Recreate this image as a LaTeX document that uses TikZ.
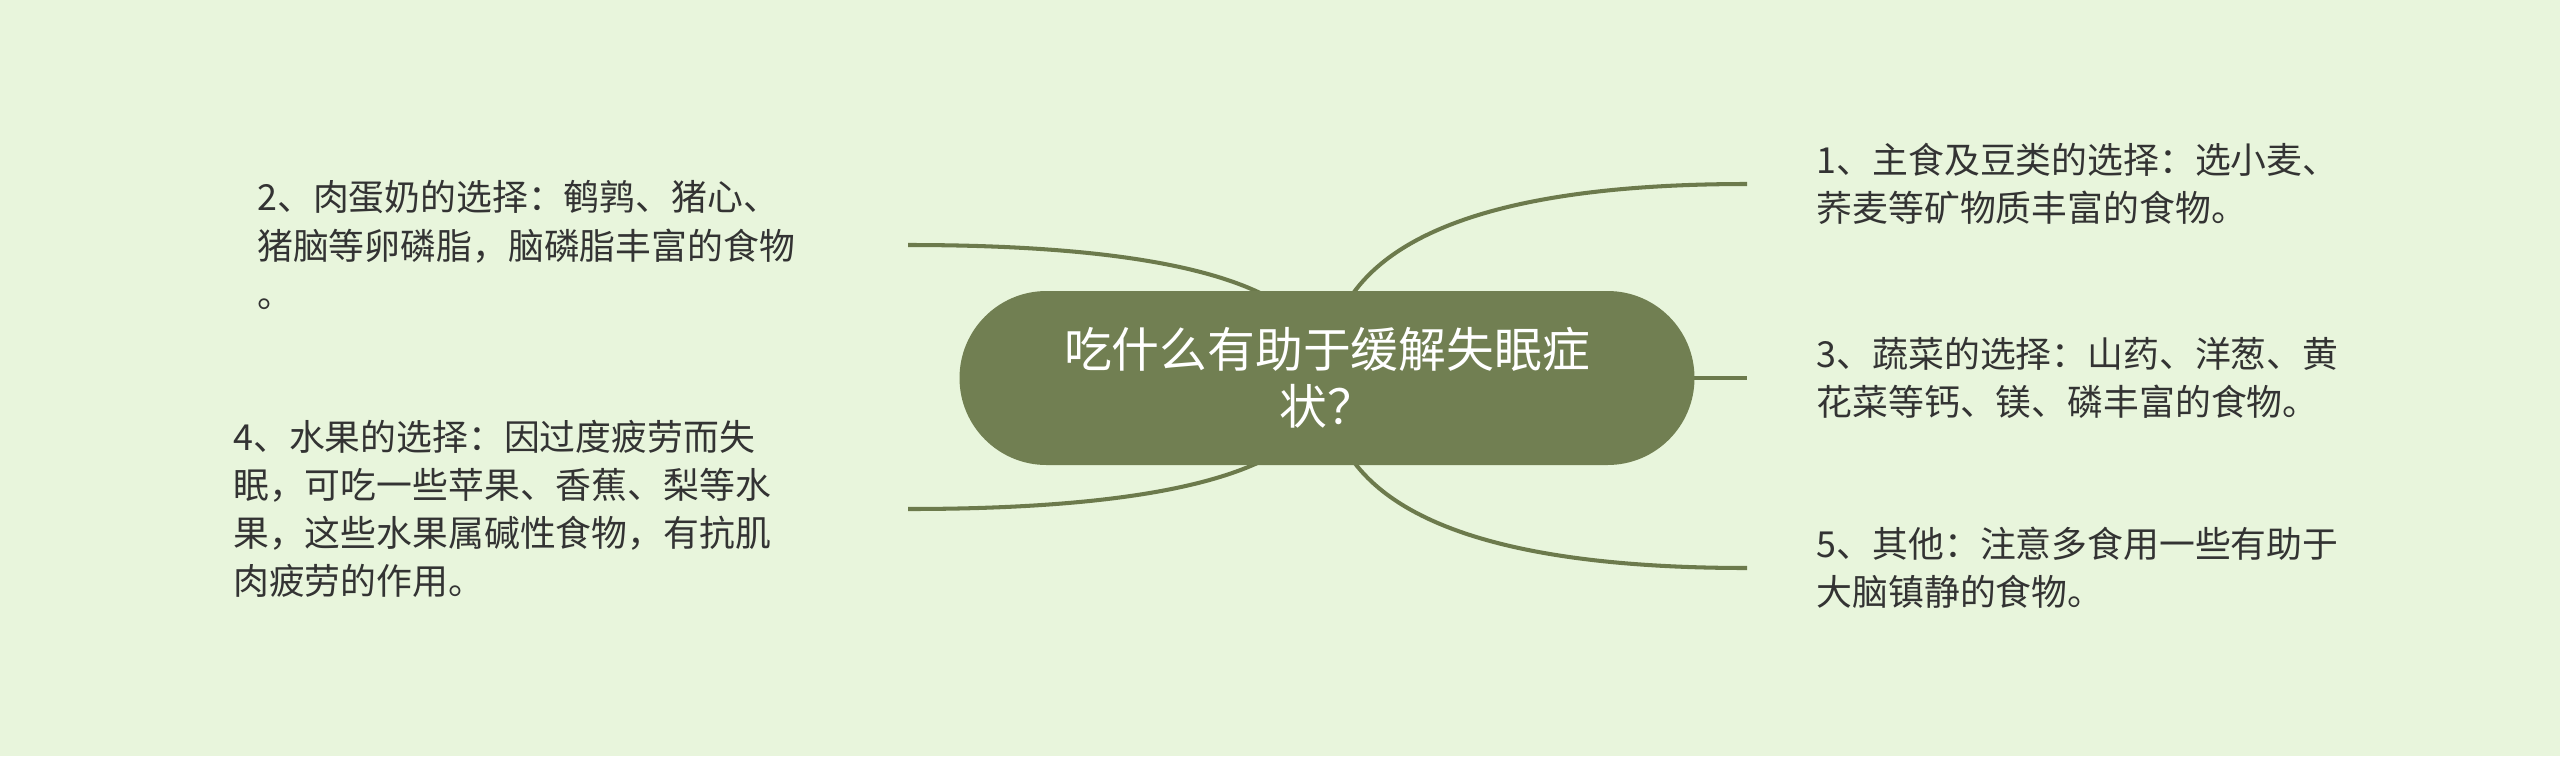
\documentclass[tikz,border=0pt]{standalone}
\usepackage{fontspec}
\setmainfont{Noto Sans CJK SC}
\usepackage{xcolor}
\usepackage{tikz}
\usetikzlibrary{calc}
\usetikzlibrary{backgrounds}

\definecolor{paper}{HTML}{E8F5DC}
\definecolor{branchgreen}{HTML}{717F52}
\definecolor{linkgreen}{HTML}{6C7A4C}
\definecolor{ink}{HTML}{333333}

\tikzset{
 topic/.style={rectangle, rounded corners=8.7mm, fill=branchgreen, text=white,
   minimum width=7.35cm, minimum height=1.74cm, align=center,
   font=\fontsize{13.6pt}{16.2pt}\selectfont},
 leaf/.style={rectangle, inner xsep=6.9mm, inner ysep=0pt, text=ink, align=left,
   font=\fontsize{10.2pt}{13.7pt}\selectfont},
 link/.style={draw=linkgreen, line width=1.15pt}
}
% curved branch from the centre of #1 to the anchor #2
\newcommand{\branch}[2]{\draw[link] (#1.center) .. controls ($(#1.center)!2/3!(#1.center |- #2)$) and ($(#2)!2/3!(#1.center |- #2)$) .. (#2);}

\begin{document}
\begin{tikzpicture}
 \useasboundingbox (0,0) rectangle (25.6,-7.56);
 \node [topic] (root) at (13.27,-3.78) {吃什么有助于缓解失眠症\\状？};
 \node [leaf, anchor=west] (n1) at (17.47,-1.84) {1、主食及豆类的选择：选小麦、\\荞麦等矿物质丰富的食物。};
 \node [leaf, anchor=west] (n3) at (17.47,-3.78) {3、蔬菜的选择：山药、洋葱、黄\\花菜等钙、镁、磷丰富的食物。};
 \node [leaf, anchor=west] (n5) at (17.47,-5.68) {5、其他：注意多食用一些有助于\\大脑镇静的食物。};
 \node [leaf, anchor=east, text width=5.81cm] (n2) at (9.08,-2.45) {2、肉蛋奶的选择：鹌鹑、猪心、\\猪脑等卵磷脂，脑磷脂丰富的食物\\。};
 \node [leaf, anchor=east, text width=6.05cm] (n4) at (9.08,-5.09) {4、水果的选择：因过度疲劳而失\\眠，可吃一些苹果、香蕉、梨等水\\果，这些水果属碱性食物，有抗肌\\肉疲劳的作用。};
 \begin{scope}[on background layer]
  \fill [paper] (0,0) rectangle (25.6,-7.56);
  \branch{root}{n1.west}
  \draw [link] (root.center) -- (n3.west);
  \branch{root}{n5.west}
  \branch{root}{n2.east}
  \branch{root}{n4.east}
 \end{scope}
\end{tikzpicture}
\end{document}
